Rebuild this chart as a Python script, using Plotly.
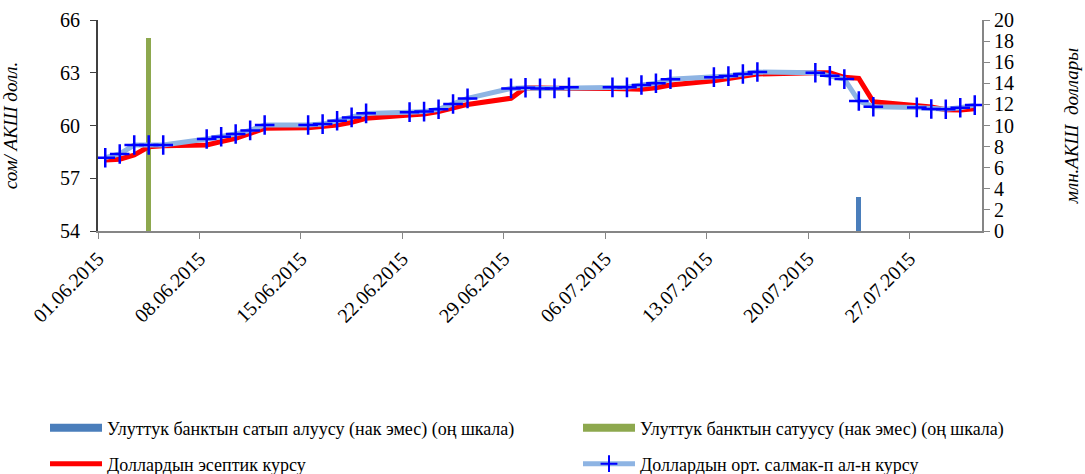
import pandas as pd
import plotly.graph_objects as go

# ---- data ----
dates = ["01.06.2015", "02.06.2015", "03.06.2015", "04.06.2015", "05.06.2015",
         "08.06.2015", "09.06.2015", "10.06.2015", "11.06.2015", "12.06.2015",
         "15.06.2015", "16.06.2015", "17.06.2015", "18.06.2015", "19.06.2015",
         "22.06.2015", "23.06.2015", "24.06.2015", "25.06.2015", "26.06.2015",
         "29.06.2015", "30.06.2015", "01.07.2015", "02.07.2015", "03.07.2015",
         "06.07.2015", "07.07.2015", "08.07.2015", "09.07.2015", "10.07.2015",
         "13.07.2015", "14.07.2015", "15.07.2015", "16.07.2015",
         "20.07.2015", "21.07.2015", "22.07.2015", "23.07.2015", "24.07.2015",
         "27.07.2015", "28.07.2015", "29.07.2015", "30.07.2015", "31.07.2015"]

official_rate = [58.04, 58.08, 58.32, 58.79, 58.85,
                 58.89, 59.08, 59.27, 59.55, 59.84,
                 59.87, 59.93, 60.03, 60.18, 60.41,
                 60.60, 60.65, 60.79, 61.00, 61.20,
                 61.55, 62.15, 62.13, 62.10, 62.10,
                 62.10, 62.08, 62.06, 62.15, 62.30,
                 62.55, 62.68, 62.80, 62.93,
                 63.00, 63.00, 62.74, 62.68, 61.35,
                 61.12, 61.05, 60.90, 60.88, 60.95]

weighted_rate = [58.17, 58.38, 58.89, 58.89, 58.89,
                 59.23, 59.36, 59.52, 59.72, 60.03,
                 60.03, 60.08, 60.27, 60.46, 60.69,
                 60.76, 60.79, 60.92, 61.22, 61.54,
                 62.11, 62.15, 62.11, 62.11, 62.17,
                 62.17, 62.17, 62.30, 62.40, 62.63,
                 62.75, 62.81, 62.93, 63.04,
                 63.00, 62.83, 62.64, 61.39, 61.07,
                 61.03, 60.94, 60.92, 61.01, 61.16]

nb_purchase_dates = ["23.07.2015"]
nb_purchase_values = [3.2]
nb_sale_dates = ["04.06.2015"]
nb_sale_values = [18.3]

tick_dates = ["01.06.2015", "08.06.2015", "15.06.2015", "22.06.2015", "29.06.2015",
              "06.07.2015", "13.07.2015", "20.07.2015", "27.07.2015"]

names = ["Улуттук банктын сатып алуусу (нак эмес) (оң шкала)",
         "Улуттук банктын сатуусу (нак эмес) (оң шкала)",
         "Доллардын эсептик курсу",
         "Доллардын орт. салмак-п ал-н курсу"]

# ---- helpers ----
def to_dt(lst):
    return pd.to_datetime(lst, format="%d.%m.%Y")

half_day = pd.Timedelta(hours=12)
x_rates = to_dt(dates) + half_day
x_buy = to_dt(nb_purchase_dates) + half_day
x_sell = to_dt(nb_sale_dates) + half_day
bar_w = 0.35 * 86400000

FONT = "Liberation Serif"
BLUE_BAR = "#4A7EBB"
GREEN_BAR = "#8DA84E"
RED = "#FF0000"
LIGHT_BLUE = "#8EB4E3"
CROSS = "#0000FF"

fig = go.Figure()

fig.add_trace(go.Bar(x=x_buy, y=nb_purchase_values, width=bar_w, marker_color=BLUE_BAR,
                     marker_line_width=0, yaxis="y", showlegend=False,
                     legendgroup="buy", name=names[0]))
fig.add_trace(go.Bar(x=x_sell, y=nb_sale_values, width=bar_w, marker_color=GREEN_BAR,
                     marker_line_width=0, yaxis="y", showlegend=False,
                     legendgroup="sell", name=names[1]))

# legend swatches for the bar series
fig.add_trace(go.Scatter(x=[None], y=[None], mode="lines", name=names[0],
                         line=dict(color=BLUE_BAR, width=8), legendgroup="buy",
                         legend="legend"))
fig.add_trace(go.Scatter(x=[None], y=[None], mode="lines", name=names[1],
                         line=dict(color=GREEN_BAR, width=8), legendgroup="sell",
                         legend="legend2"))

fig.add_trace(go.Scatter(x=x_rates, y=official_rate, mode="lines", name=names[2],
                         line=dict(color=RED, width=5), yaxis="y2", legend="legend3"))
fig.add_trace(go.Scatter(x=x_rates, y=weighted_rate, mode="lines+markers", name=names[3],
                         line=dict(color=LIGHT_BLUE, width=5),
                         marker=dict(symbol="cross-thin", size=14, color=CROSS,
                                     line=dict(color=CROSS, width=2.5)),
                         yaxis="y2", legend="legend4"))

tick_font = dict(family=FONT, size=20, color="black")
leg_font = dict(family=FONT, size=18, color="black")

W, H = 1085, 474


def leg(px, py, sizing="trace"):
    return dict(orientation="h", xref="container", yref="container",
                x=px / W, y=1 - py / H, xanchor="left", yanchor="middle",
                itemwidth=52, itemsizing=sizing, font=leg_font,
                bgcolor="rgba(0,0,0,0)")


fig.update_layout(
    width=W, height=H,
    margin=dict(l=98, r=103, t=20, b=243, autoexpand=False),
    paper_bgcolor="white", plot_bgcolor="white",
    font=dict(family=FONT, color="black"),
    bargap=0,
    xaxis=dict(type="date", automargin=False,
               range=[to_dt(["01.06.2015"])[0], to_dt(["01.08.2015"])[0]],
               tickvals=to_dt(tick_dates), ticktext=tick_dates,
               tickangle=-45, tickfont=tick_font,
               showgrid=False, zeroline=False,
               showline=True, linecolor="#868686", linewidth=2,
               ticks="outside", ticklen=6, tickcolor="#868686", tickwidth=1),
    yaxis=dict(side="right", range=[0, 20], dtick=2, tickfont=tick_font,
               automargin=False, showgrid=False, zeroline=False,
               showline=True, linecolor="#868686", linewidth=2,
               ticks="outside", ticklen=6, tickcolor="#868686",
               title=dict(text="млн.АКШ  доллары",
                          font=dict(family=FONT, size=19, style="italic"),
                          standoff=52)),
    yaxis2=dict(overlaying="y", side="left", range=[54, 66], dtick=3,
                tickfont=tick_font, automargin=False, showgrid=False, zeroline=False,
                showline=True, linecolor="#404040", linewidth=2,
                ticks="outside", ticklen=6, tickcolor="#404040",
                ticklabelstandoff=6,
                title=dict(text="сом/ АКШ долл.",
                           font=dict(family=FONT, size=19, style="italic"),
                           standoff=39)),
    legend=leg(45, 428),
    legend2=leg(578, 428),
    legend3=leg(45, 464),
    legend4=leg(578, 464, "constant"),
)

fig.write_html("out.html", post_script="document.body.style.margin='0';",
               config={"displayModeBar": False})
